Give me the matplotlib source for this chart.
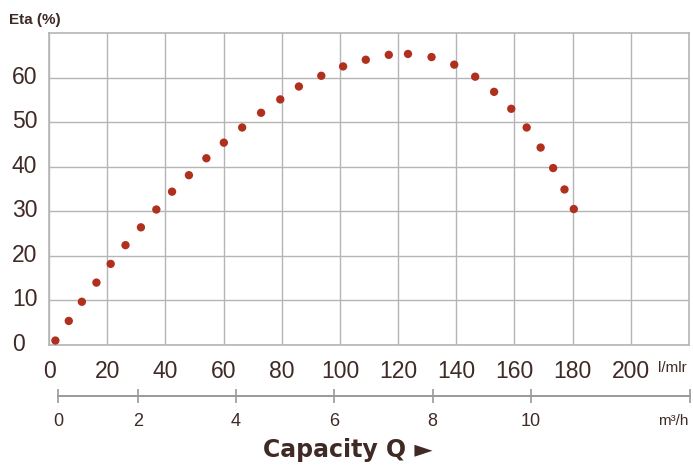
import matplotlib
matplotlib.use("Agg")
import matplotlib.pyplot as plt
from matplotlib.transforms import ScaledTranslation

# ---- data ----
flow_lmin = [2.2, 6.8, 11.3, 16.3, 21.2, 26.3, 31.6, 36.9, 42.3, 48.1, 54.1, 60.1,
             66.4, 72.9, 79.5, 85.9, 93.6, 101.1, 108.9, 116.8, 123.4, 131.5, 139.3,
             146.5, 153.0, 158.9, 164.2, 169.0, 173.3, 177.2, 180.4]
eta_pct = [1.0, 5.4, 9.7, 14.0, 18.2, 22.4, 26.4, 30.4, 34.4, 38.1, 41.9, 45.4,
           48.8, 52.1, 55.1, 58.0, 60.4, 62.5, 64.0, 65.1, 65.3, 64.6, 62.9,
           60.2, 56.8, 53.0, 48.8, 44.3, 39.7, 34.9, 30.5]
x_ticks = [0, 20, 40, 60, 80, 100, 120, 140, 160, 180, 200]
y_ticks = [0, 10, 20, 30, 40, 50, 60]
m3h_labels = ["0", "2", "4", "6", "8", "10"]
m3h_ticks = [2, 4, 6, 8, 10]

TXT = "#3f2a26"
GRID = "#b5b5b5"
DOT = "#b0301e"

W, H = 693, 469
fig = plt.figure(figsize=(W / 100, H / 100), dpi=100)

L, R, T, B = 49, 689, 33, 345
ax = fig.add_axes([L / W, 1 - B / H, (R - L) / W, (B - T) / H])
ax.set_xlim(0, 220)
ax.set_ylim(0, 70)
ax.set_xticks(x_ticks)
ax.set_yticks(y_ticks)
ax.grid(True, color=GRID, linewidth=1.0)
ax.set_axisbelow(True)
for s in ax.spines.values():
    s.set_color(GRID)
    s.set_linewidth(1.2)
ax.tick_params(length=0, labelcolor=TXT)
ax.tick_params(axis="x", labelsize=16.5, pad=11)
ax.tick_params(axis="y", labelsize=16.5, pad=37 * 72 / 100)
for lab in ax.get_xticklabels() + ax.get_yticklabels():
    lab.set_family("Liberation Sans")
for lab in ax.get_yticklabels():
    lab.set_horizontalalignment("left")
    lab.set_transform(lab.get_transform() + ScaledTranslation(0, 3 / 100, fig.dpi_scale_trans))

ax.scatter(flow_lmin, eta_pct, s=36, color=DOT, edgecolors="none", zorder=3, clip_on=False)

# secondary m3/h axis
sx0, sx1, sy = 58.3, 690, 396
px_per_unit = (531 - 137.7) / 8
v0 = 2 - (137.7 - sx0) / px_per_unit
v1 = 10 + (sx1 - 531) / px_per_unit
ax2 = fig.add_axes([sx0 / W, 1 - sy / H, (sx1 - sx0) / W, 0.0001])
ax2.set_xlim(v0, v1)
ax2.set_yticks([])
for k in ("top", "left", "right"):
    ax2.spines[k].set_visible(False)
ax2.spines["bottom"].set_color("#9a9a9a")
ax2.spines["bottom"].set_linewidth(1.4)
ax2.patch.set_visible(False)
ax2.set_xticks([v0] + m3h_ticks + [v1])
ax2.set_xticklabels(m3h_labels + [""], family="Liberation Sans")
ax2.tick_params(axis="x", direction="inout", length=10, width=1.2, color="#9a9a9a",
                labelsize=13, labelcolor=TXT, pad=7)

fig.text(658 / W, 1 - 368 / H, "l/mlr", fontsize=11, color=TXT, ha="left", va="center",
         family="Liberation Sans")
fig.text(658 / W, 1 - 421 / H, "m³/h", fontsize=11, color=TXT, ha="left", va="center",
         family="Liberation Sans")
fig.text(9 / W, 1 - 24.3 / H, "Eta (%)", fontsize=11, fontweight="bold", color=TXT,
         ha="left", va="baseline", family="Liberation Sans")
fig.text(263 / W, 1 - 457.3 / H, "Capacity Q ►", fontsize=17, fontweight="bold", color=TXT,
         ha="left", va="baseline", family="DejaVu Sans")

fig.savefig("out.png", dpi=100)
